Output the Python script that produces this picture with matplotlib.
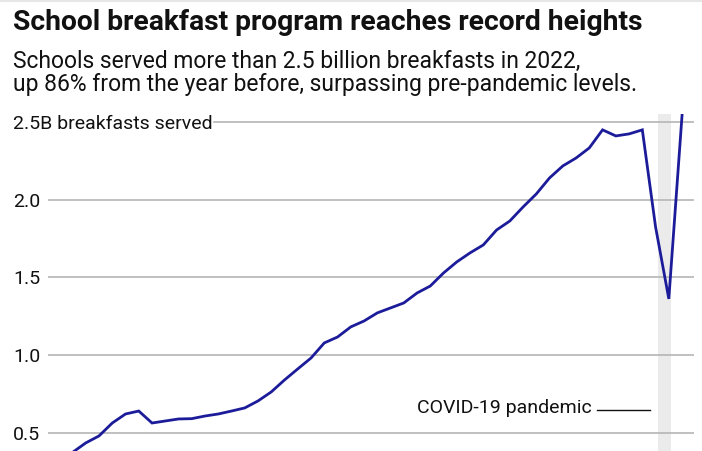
import matplotlib
matplotlib.use("Agg")
import matplotlib.pyplot as plt

years = list(range(1975, 2023))
breakfasts_b = [0.31, 0.375, 0.436, 0.481, 0.564, 0.622, 0.641, 0.564, 0.577, 0.590,
                0.592, 0.609, 0.622, 0.641, 0.661, 0.706, 0.764, 0.841, 0.912, 0.982,
                1.079, 1.117, 1.182, 1.220, 1.272, 1.304, 1.336, 1.400, 1.445, 1.529,
                1.600, 1.658, 1.709, 1.805, 1.863, 1.953, 2.037, 2.140, 2.217, 2.268,
                2.333, 2.449, 2.410, 2.423, 2.449, 1.825, 1.362, 2.545]
ytick_vals = [0.5, 1.0, 1.5, 2.0, 2.5]
ytick_labels = ["0.5", "1.0", "1.5", "2.0", "2.5B breakfasts served"]
covid_span = (2020.15, 2021.15)

title = "School breakfast program reaches record heights"
subtitle_lines = ["Schools served more than 2.5 billion breakfasts in 2022,",
                  "up 86% from the year before, surpassing pre-pandemic levels."]
annot = "COVID-19 pandemic"

plt.rcParams['font.family'] = ['Roboto', 'DejaVu Sans']

W, H = 702, 451
fig = plt.figure(figsize=(W / 100, H / 100), dpi=100)
fig.patch.set_facecolor('white')

ax_left, ax_right = 48, 694
ax_top, ax_bottom = 114, 451
ax = fig.add_axes([ax_left / W, 1 - ax_bottom / H, (ax_right - ax_left) / W, (ax_bottom - ax_top) / H])
ax.set_xlim(1974.15, 2022.9)
ax.set_ylim(0.384, 2.551)
for s in ax.spines.values():
    s.set_visible(False)
ax.set_xticks([])
ax.set_yticks([])

ax.axvspan(covid_span[0], covid_span[1], ymin=0, ymax=1, color='#ebebeb', lw=0, zorder=0)

grid_start_25 = (214 - ax_left) / (ax_right - ax_left)
for v, lab in zip(ytick_vals, ytick_labels):
    xmin = grid_start_25 if v == 2.5 else 0
    ax.axhline(v, xmin=xmin, xmax=1, color='#b5b5b5', lw=1.2, zorder=1)
    ax.text(-35 / (ax_right - ax_left), v, lab, transform=ax.get_yaxis_transform(),
            ha='left', va='center_baseline', fontsize=14, color='#111111', clip_on=False)

ax.plot(years, breakfasts_b, color='#1c1c9a', lw=2.0, zorder=3, clip_on=True,
        solid_joinstyle='miter')

ax.text(2015.2, 0.629, annot, ha='right', va='baseline', fontsize=14, color='#111111')
ax.plot([2015.58, 2019.58], [0.648, 0.648], color='#111111', lw=1.0, zorder=3)

fig.text(13 / W, 1 - 30 / H, title, ha='left', va='baseline', fontsize=20.3,
         fontweight='bold', color='#111111')
fig.text(13 / W, 1 - 68 / H, subtitle_lines[0], ha='left', va='baseline', fontsize=16.5, color='#111111')
fig.text(13 / W, 1 - 91 / H, subtitle_lines[1], ha='left', va='baseline', fontsize=16.5, color='#111111')
fig.add_artist(plt.Line2D([0, 1], [1 - 0.5 / H, 1 - 0.5 / H], color='#e6e6e6', lw=1.5))

fig.savefig('out.png', dpi=100, facecolor='white')
